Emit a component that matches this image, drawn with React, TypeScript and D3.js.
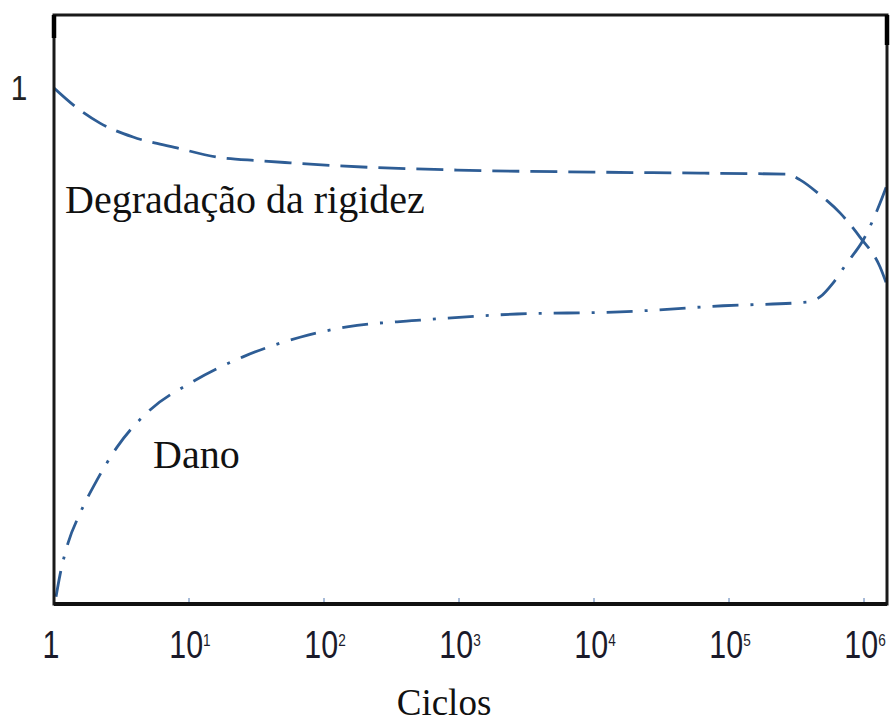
import React from "react";
import * as d3 from "d3";

// Stiffness degradation (normalised) vs number of cycles
const stiffnessCycles = [1, 1.56, 2.19, 3.85, 8.15, 16.1, 33.6, 56, 131.5, 966, 9840, 61000, 269000, 336000, 472000, 664000, 933000, 1315000, 1480000];
const stiffnessValues = [1.0, 0.957, 0.932, 0.905, 0.884, 0.866, 0.859, 0.855, 0.849, 0.841, 0.837, 0.835, 0.833, 0.822, 0.793, 0.758, 0.711, 0.653, 0.618];

// Damage vs number of cycles
const damageCycles = [1.035, 1.107, 1.27, 1.56, 2.08, 2.93, 5.14, 10.2, 25.1, 66.4, 148, 514, 2690, 15600, 90400, 378000, 472000, 589000, 748000, 984000, 1315000, 1480000];
const damageValues = [0.014, 0.056, 0.118, 0.176, 0.24, 0.304, 0.376, 0.428, 0.479, 0.517, 0.537, 0.55, 0.562, 0.566, 0.578, 0.585, 0.595, 0.622, 0.661, 0.705, 0.777, 0.812];

const xTickExponents = [1, 2, 3, 4, 5, 6];
const yTickValues = [1];

const W = 893;
const H = 724;
const left = 54;
const right = 887;
const top = 15;
const bottom = 604;

const lineColor = "#2e5d95";
const serifFont = "'Liberation Serif', 'Times New Roman', 'DejaVu Serif', serif";
const sansFont = "'Liberation Sans', Arial, 'DejaVu Sans', sans-serif";

export default function App() {
  const x = d3.scaleLog().domain([1, 1480000]).range([left, right]);
  const y = d3.scaleLinear().domain([0, 1.1415]).range([bottom, top]);

  const line = d3
    .line<[number, number]>()
    .x((d) => x(d[0]))
    .y((d) => y(d[1]))
    .curve(d3.curveMonotoneX);

  const stiffness = stiffnessCycles.map((c, i) => [c, stiffnessValues[i]] as [number, number]);
  const damage = damageCycles.map((c, i) => [c, damageValues[i]] as [number, number]);

  return (
    <svg
      width={W}
      height={H}
      viewBox={`0 0 ${W} ${H}`}
      style={{ position: "absolute", left: 0, top: 0, background: "#fff" }}
    >
      <defs>
        <clipPath id="plot-area">
          <rect x={left} y={top} width={right - left} height={bottom - top} />
        </clipPath>
      </defs>
      <rect x={0} y={0} width={W} height={H} fill="#fff" />

      {/* minor tick marks along the bottom */}
      {xTickExponents.map((k) => (
        <line
          key={k}
          x1={x(Math.pow(10, k))}
          x2={x(Math.pow(10, k))}
          y1={bottom}
          y2={bottom - 6}
          stroke="#6f8fbf"
          strokeWidth={1.2}
        />
      ))}

      <g clipPath="url(#plot-area)">
        <path
          d={line(stiffness) || ""}
          fill="none"
          stroke={lineColor}
          strokeWidth={2.8}
          strokeDasharray="27 11"
        />
        <path
          d={line(damage) || ""}
          fill="none"
          stroke={lineColor}
          strokeWidth={2.8}
          strokeDasharray="26 12 3 12"
        />
      </g>

      {/* frame */}
      <rect x={left} y={top} width={right - left} height={bottom - top} fill="none" stroke="#1a1a1a" strokeWidth={3} />
      <line x1={left} x2={left} y1={top} y2={38} stroke="#000" strokeWidth={4.5} />
      <line x1={right} x2={right} y1={top} y2={45} stroke="#000" strokeWidth={4.5} />
      <line x1={left} x2={right} y1={bottom} y2={bottom} stroke="#111" strokeWidth={4} />

      {/* y tick label */}
      {yTickValues.map((v) => (
        <text
          key={v}
          x={19}
          y={y(v) + 12}
          textAnchor="middle"
          style={{ fontFamily: sansFont }}
          fontSize={35}
          fill="#222"
          transform={`translate(19,0) scale(0.85,1) translate(-19,0)`}
        >
          {v}
        </text>
      ))}

      {/* x tick labels */}
      <text
        x={51}
        y={658}
        textAnchor="middle"
        style={{ fontFamily: sansFont }}
        fontSize={38}
        fill="#1a1a2a"
        transform={`translate(51,0) scale(0.8,1) translate(-51,0)`}
      >
        1
      </text>
      {xTickExponents.map((k) => {
        const cx = x(Math.pow(10, k)) + 1;
        return (
          <text
            key={k}
            x={cx}
            y={658}
            textAnchor="middle"
            style={{ fontFamily: sansFont }}
            fontSize={38}
            fill="#1a1a2a"
            transform={`translate(${cx},0) scale(0.8,1) translate(${-cx},0)`}
          >
            <tspan>10</tspan>
            <tspan dy={-12} fontSize={17}>
              {k}
            </tspan>
          </text>
        );
      })}

      {/* annotations */}
      <text x={65} y={213} style={{ fontFamily: serifFont }} fontSize={40} fill="#111">
        Degradação da rigidez
      </text>
      <text x={153} y={468} style={{ fontFamily: serifFont }} fontSize={40} fill="#111">
        Dano
      </text>
      <text x={444} y={715} textAnchor="middle" style={{ fontFamily: serifFont }} fontSize={37} fill="#111">
        Ciclos
      </text>
    </svg>
  );
}
